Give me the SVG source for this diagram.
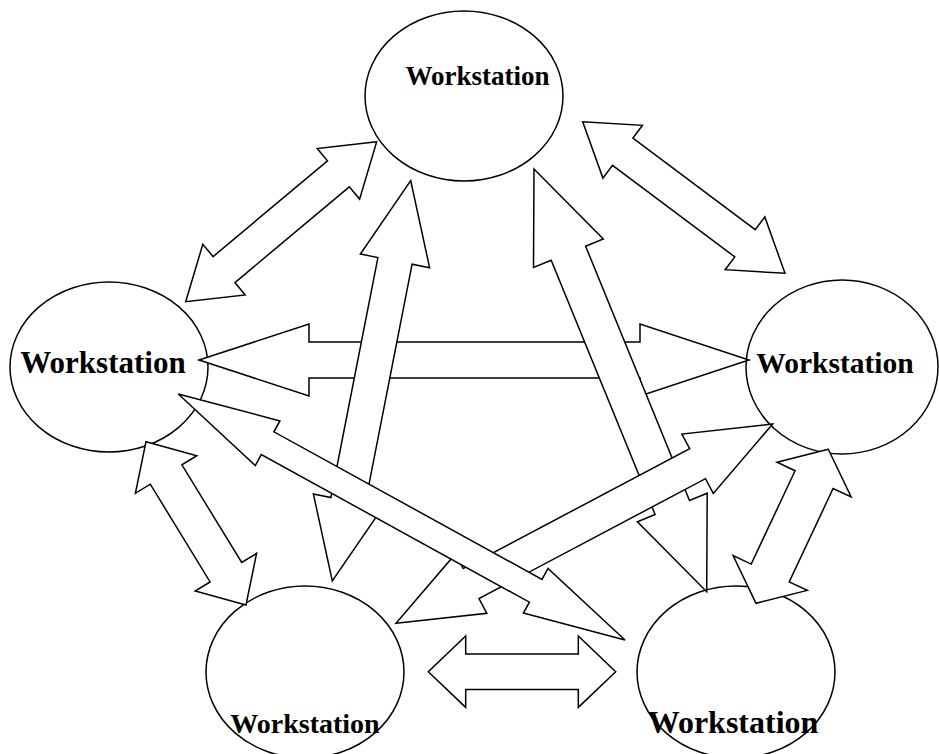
<svg xmlns="http://www.w3.org/2000/svg" width="939" height="754" viewBox="0 0 939 754">
  <style>
    .node ellipse { fill: #fff; stroke: #000; stroke-width: 1.5; }
    .node text { font-family: "Liberation Serif", "Times New Roman", serif; font-weight: bold; text-anchor: middle; fill: #000; }
    .link { fill: #fff; stroke: #000; stroke-width: 1.5; stroke-linejoin: miter; }
  </style>
  <rect width="939" height="754" fill="#fff"/>

  <g id="ws-top" class="node">
    <ellipse cx="464" cy="96" rx="99" ry="85"/>
    <text x="477.5" y="85" font-size="27">Workstation</text>
  </g>
  <g id="ws-left" class="node">
    <ellipse cx="109" cy="367" rx="99" ry="85"/>
    <text x="103" y="373" font-size="31">Workstation</text>
  </g>
  <g id="ws-right" class="node">
    <ellipse cx="842" cy="367" rx="96" ry="87"/>
    <text x="835" y="373" font-size="29.5">Workstation</text>
  </g>
  <g id="ws-bottom-left" class="node">
    <ellipse cx="305" cy="672" rx="99" ry="86"/>
    <text x="305" y="733" font-size="28">Workstation</text>
  </g>
  <g id="ws-bottom-right" class="node">
    <ellipse cx="736" cy="672" rx="99" ry="86"/>
    <text x="733" y="733" font-size="32">Workstation</text>
  </g>

  <!-- double-headed block arrows, later ones drawn over earlier ones -->
  <g id="connectors">
    <polygon class="link" points="376.7,141.7 317.2,148.5 327.5,160.8 213.1,256.6 202.8,244.3 185.7,301.7 245.2,294.9 234.9,282.6 349.3,186.8 359.6,199.1"/>
    <polygon class="link" points="582.7,121.7 602.9,178.1 612.5,165.3 734.8,256.9 725.2,269.7 785,273.3 764.8,216.9 755.2,229.7 632.9,138.1 642.5,125.3"/>
    <polygon class="link" points="199,360 309,396 309,378 640,378 640,396 749,360 640,324 640,342 309,342 309,324"/>
    <polygon class="link" points="146,441.7 135.4,493.3 150.3,484.2 210.1,581.9 195.2,591 246,605 256.6,553.4 241.7,562.5 181.9,464.8 196.8,455.7"/>
    <polygon class="link" points="828.3,449.3 777,462.2 795.1,470.7 751.2,564.1 733.1,555.6 756,603.3 807.3,590.4 789.2,581.9 833.1,488.5 851.2,497"/>
    <polygon class="link" points="428.3,671.7 465.7,707.4 465.7,689.4 578.3,689.4 578.3,707.4 615.7,671.7 578.3,636 578.3,654 465.7,654 465.7,636"/>
    <polygon class="link" points="410.7,180.7 360.4,254.1 377.9,257.6 330.9,497.5 313.4,494 332.3,581 382.6,507.6 365.1,504.1 412.1,264.2 429.6,267.7"/>
    <polygon class="link" points="534,169 533.5,267.5 551.2,260.2 655.1,514.5 637.4,521.8 706.7,591.7 707.2,493.2 689.5,500.5 585.6,246.2 603.3,238.9"/>
    <polygon class="link" points="396,623.3 486.8,613.3 479,598.6 705.5,478.7 713.3,493.4 772.7,424 681.9,434 689.7,448.7 463.2,568.6 455.4,553.9"/>
    <polygon class="link" points="178.3,394 255.3,465.5 261.3,454.6 529.4,602.2 523.4,613.1 625,640 548,568.5 542,579.4 273.9,431.8 279.9,420.9"/>
  </g>
</svg>
